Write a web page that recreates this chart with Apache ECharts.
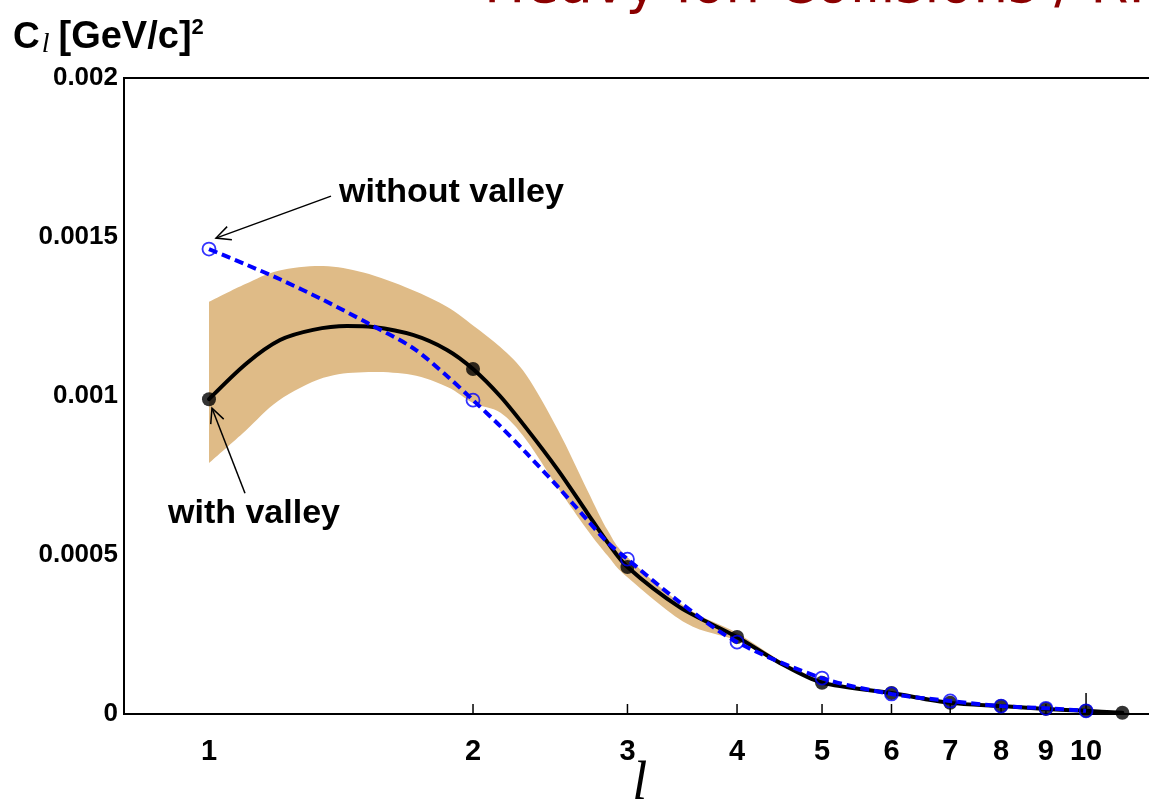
<!DOCTYPE html>
<html>
<head>
<meta charset="utf-8">
<script src="https://cdn.jsdelivr.net/npm/echarts@6/dist/echarts.min.js"></script>
<style>
  html, body { margin: 0; padding: 0; background: #fff; }
  #chart { width: 1149px; height: 802px; }
</style>
</head>
<body>
<div id="chart"></div>
<script>
// Multipole index l and the power C_l of the two scenarios
const ells = [1, 2, 3, 4, 5, 6, 7, 8, 9, 10, 11];
const withValley = [0.00099, 0.001085, 0.000462, 0.000242, 0.0000985, 0.000066, 0.000035, 0.000025, 0.000016, 0.00001, 0.000004];
const withoutValleyEll = [1, 2, 3, 4, 5, 6, 7, 8, 9, 10];
const withoutValley = [0.001462, 0.000987, 0.000487, 0.000226, 0.000113, 0.000063, 0.000041, 0.000025, 0.000018, 0.00001];

// Continuous curves through the points
const curveEll = [1, 1.105, 1.205, 1.314, 1.437, 1.538, 1.708, 1.868, 2, 2.147, 2.3, 2.5, 2.7, 2.85, 3, 3.44, 4, 4.48, 5, 6, 7, 8, 9, 10, 11];
const curveWith = [0.00099, 0.001104, 0.001176, 0.001208, 0.00122, 0.001217, 0.001192, 0.001145, 0.001085, 0.001, 0.000899, 0.000767, 0.000632, 0.000538, 0.000462, 0.000336, 0.000242, 0.00016, 0.0000985, 0.000066, 0.000035, 0.000025, 0.000016, 0.00001, 0.000004];
const curveWithoutEll = [1, 1.105, 1.205, 1.35, 1.515, 1.708, 1.868, 2, 2.147, 2.3, 2.5, 2.7, 2.85, 3, 3.44, 4, 5, 6, 7, 8, 9, 10];
const curveWithout = [0.001462, 0.001412, 0.001367, 0.001302, 0.00123, 0.001151, 0.001063, 0.000987, 0.000906, 0.000821, 0.000714, 0.00061, 0.000538, 0.000487, 0.000352, 0.000226, 0.000113, 0.000063, 0.000041, 0.000025, 0.000018, 0.00001];

// Uncertainty band of the "with valley" curve
const bandEll = [1, 1.1, 1.2, 1.35, 1.5, 1.7, 1.87, 2, 2.15, 2.3, 2.5, 2.7, 2.85, 3, 3.5, 4, 4.5, 5];
const bandUpper = [0.001296, 0.001352, 0.001394, 0.001409, 0.001388, 0.001335, 0.00128, 0.001222, 0.001153, 0.001066, 0.000893, 0.000704, 0.000576, 0.000493, 0.000335, 0.000255, 0.000165, 0.000103];
const bandLower = [0.000789, 0.00089, 0.000985, 0.001057, 0.001075, 0.001067, 0.001028, 0.000978, 0.000947, 0.000862, 0.000711, 0.000579, 0.000497, 0.00043, 0.000285, 0.00023, 0.000152, 0.000097];

// Axis ticks and labels
const xTickValues = [1, 2, 3, 4, 5, 6, 7, 8, 9, 10];
const xTickLabels = ['1', '2', '3', '4', '5', '6', '7', '8', '9', '10'];
const yTickLabels = ['0', '0.0005', '0.001', '0.0015', '0.002'];

const SANS = '"Liberation Sans", Arial, Helvetica, sans-serif';
const BLUE = '#0000ff';

const chart = echarts.init(document.getElementById('chart'), null, { renderer: 'canvas' });

// Callout placement relative to the point each arrow points at (pixels)
const callouts = [
  { text: 'without valley', ell: withoutValleyEll[0], value: withoutValley[0], tip: [7, -11], tail: [122, -53], label: [130, -56] },
  { text: 'with valley', ell: ells[0], value: withValley[0], tip: [3, 9], tail: [36, 94], label: [-41, 114] }
];

function arrowHead(tip, tail, len, ang) {
  const dx = tail[0] - tip[0], dy = tail[1] - tip[1];
  const d = Math.hypot(dx, dy);
  const ux = dx / d, uy = dy / d;
  const pts = [];
  [ang, -ang].forEach(a => {
    const c = Math.cos(a), s = Math.sin(a);
    pts.push([tip[0] + len * (ux * c - uy * s), tip[1] + len * (ux * s + uy * c)]);
  });
  return pts;
}

// Cubic segments (Catmull-Rom) through a list of screen points
function smoothPath(pts) {
  let d = '';
  for (let i = 0; i < pts.length - 1; i++) {
    const p0 = pts[i - 1] || pts[i], p1 = pts[i], p2 = pts[i + 1], p3 = pts[i + 2] || pts[i + 1];
    const c1 = [p1[0] + (p2[0] - p0[0]) / 6, p1[1] + (p2[1] - p0[1]) / 6];
    const c2 = [p2[0] - (p3[0] - p1[0]) / 6, p2[1] - (p3[1] - p1[1]) / 6];
    d += ' C' + c1[0] + ' ' + c1[1] + ' ' + c2[0] + ' ' + c2[1] + ' ' + p2[0] + ' ' + p2[1];
  }
  return d;
}

const option = {
  animation: false,
  backgroundColor: '#fff',
  grid: {
    left: 124, top: 78, width: 1031.5, height: 636,
    outerBoundsMode: 'none', containLabel: false,
    show: true, borderColor: '#000', borderWidth: 2, backgroundColor: 'transparent'
  },
  xAxis: {
    type: 'log', logBase: 10, min: 0.8, max: 12,
    axisLine: { show: false }, axisTick: { show: false }, axisLabel: { show: false },
    splitLine: { show: false }, minorTick: { show: false },
    name: 'l', nameLocation: 'middle', nameGap: 44,
    nameTextStyle: { fontFamily: '"Liberation Serif", "Times New Roman", serif', fontStyle: 'italic', fontSize: 54, color: '#000' }
  },
  yAxis: {
    type: 'value', min: 0, max: 0.002, interval: 0.0005,
    axisLine: { show: false }, axisTick: { show: false }, splitLine: { show: false },
    axisLabel: {
      margin: 6, color: '#000', fontFamily: SANS, fontWeight: 'bold', fontSize: 26,
      formatter: (v) => yTickLabels[Math.round(v / 0.0005)]
    }
  },
  graphic: [
    {
      type: 'text', left: 484, top: -40, silent: true,
      style: { text: 'Heavy Ion Collisions / RHIC', font: 'normal 55px "DejaVu Sans", sans-serif', fill: '#8b0000' }
    },
    {
      type: 'text', left: 13, top: 17, silent: true,
      style: {
        text: '{a|C}{sub|l}{b|[GeV/c]}{sup|2}',
        rich: {
          a: { fontFamily: SANS, fontWeight: 'bold', fontSize: 37, lineHeight: 42, color: '#000' },
          b: { fontFamily: SANS, fontWeight: 'bold', fontSize: 38, lineHeight: 42, color: '#000', padding: [0, 0, 0, 9] },
          sub: { fontFamily: '"Liberation Serif", serif', fontStyle: 'italic', fontSize: 28, lineHeight: 12, verticalAlign: 'bottom', color: '#000', padding: [0, 0, 0, 2] },
          sup: { fontFamily: SANS, fontWeight: 'bold', fontSize: 22, lineHeight: 30, verticalAlign: 'top', color: '#000' }
        }
      }
    }
  ],
  series: [
    {
      // shaded band
      type: 'custom', z: 1, silent: true, clip: false,
      data: [[bandEll[0], bandUpper[0]]],
      renderItem: (params, api) => {
        const up = bandEll.map((l, i) => api.coord([l, bandUpper[i]]));
        const lo = bandEll.map((l, i) => api.coord([l, bandLower[i]])).reverse();
        const d = 'M' + up[0][0] + ' ' + up[0][1] + smoothPath(up) +
          ' L' + lo[0][0] + ' ' + lo[0][1] + smoothPath(lo) + ' Z';
        return { type: 'path', shape: { pathData: d }, style: { fill: '#dfbb87', stroke: null } };
      }
    },
    {
      // x ticks and their labels
      type: 'custom', z: 2, silent: true, clip: false,
      data: xTickValues.map(v => [v, 0]),
      renderItem: (params, api) => {
        const p = api.coord([api.value(0), 0]);
        const v = xTickValues[params.dataIndex];
        const len = v === 10 ? 21 : (v === 1 ? 0 : 10);
        return {
          type: 'group',
          children: [
            { type: 'line', shape: { x1: p[0], y1: p[1], x2: p[0], y2: p[1] - len }, style: { stroke: '#000', lineWidth: 1.5 } },
            { type: 'text', x: p[0], y: p[1] + 38, style: { text: xTickLabels[params.dataIndex], align: 'center', verticalAlign: 'middle', font: 'bold 29px ' + SANS, fill: '#000' } }
          ]
        };
      }
    },
    {
      type: 'line', z: 3, silent: true,
      data: curveEll.map((l, i) => [l, curveWith[i]]),
      showSymbol: false, symbol: 'none', smooth: 0.3,
      lineStyle: { color: '#000', width: 4, cap: 'round', join: 'round' }
    },
    {
      type: 'scatter', z: 4, silent: true,
      data: ells.map((l, i) => [l, withValley[i]]),
      symbol: 'circle', symbolSize: 14,
      itemStyle: { color: '#000' }
    },
    {
      type: 'line', z: 5, silent: true,
      data: curveWithoutEll.map((l, i) => [l, curveWithout[i]]),
      showSymbol: false, symbol: 'none', smooth: 0.3,
      lineStyle: { color: BLUE, width: 4, type: [9, 5] }
    },
    {
      type: 'scatter', z: 6, silent: true,
      data: withoutValleyEll.map((l, i) => [l, withoutValley[i]]),
      symbol: 'circle', symbolSize: 13,
      itemStyle: { color: 'rgba(0,0,0,0)', borderColor: BLUE, borderWidth: 1.8 }
    },
    {
      // callouts with open arrows
      type: 'custom', z: 7, silent: true, clip: false,
      data: callouts.map(c => [c.ell, c.value]),
      renderItem: (params, api) => {
        const c = callouts[params.dataIndex];
        const p = api.coord([api.value(0), api.value(1)]);
        const tip = [p[0] + c.tip[0], p[1] + c.tip[1]];
        const tail = [p[0] + c.tail[0], p[1] + c.tail[1]];
        const head = arrowHead(tip, tail, 16, 0.45);
        const ls = { stroke: '#000', lineWidth: 1.5 };
        return {
          type: 'group',
          children: [
            { type: 'line', shape: { x1: tail[0], y1: tail[1], x2: tip[0], y2: tip[1] }, style: ls },
            { type: 'polyline', shape: { points: [head[0], tip, head[1]] }, style: Object.assign({ fill: null }, ls) },
            { type: 'text', x: p[0] + c.label[0], y: p[1] + c.label[1], style: { text: c.text, align: 'left', verticalAlign: 'middle', font: 'bold 34px ' + SANS, fill: '#000' } }
          ]
        };
      }
    }
  ]
};

chart.setOption(option);
</script>
</body>
</html>
